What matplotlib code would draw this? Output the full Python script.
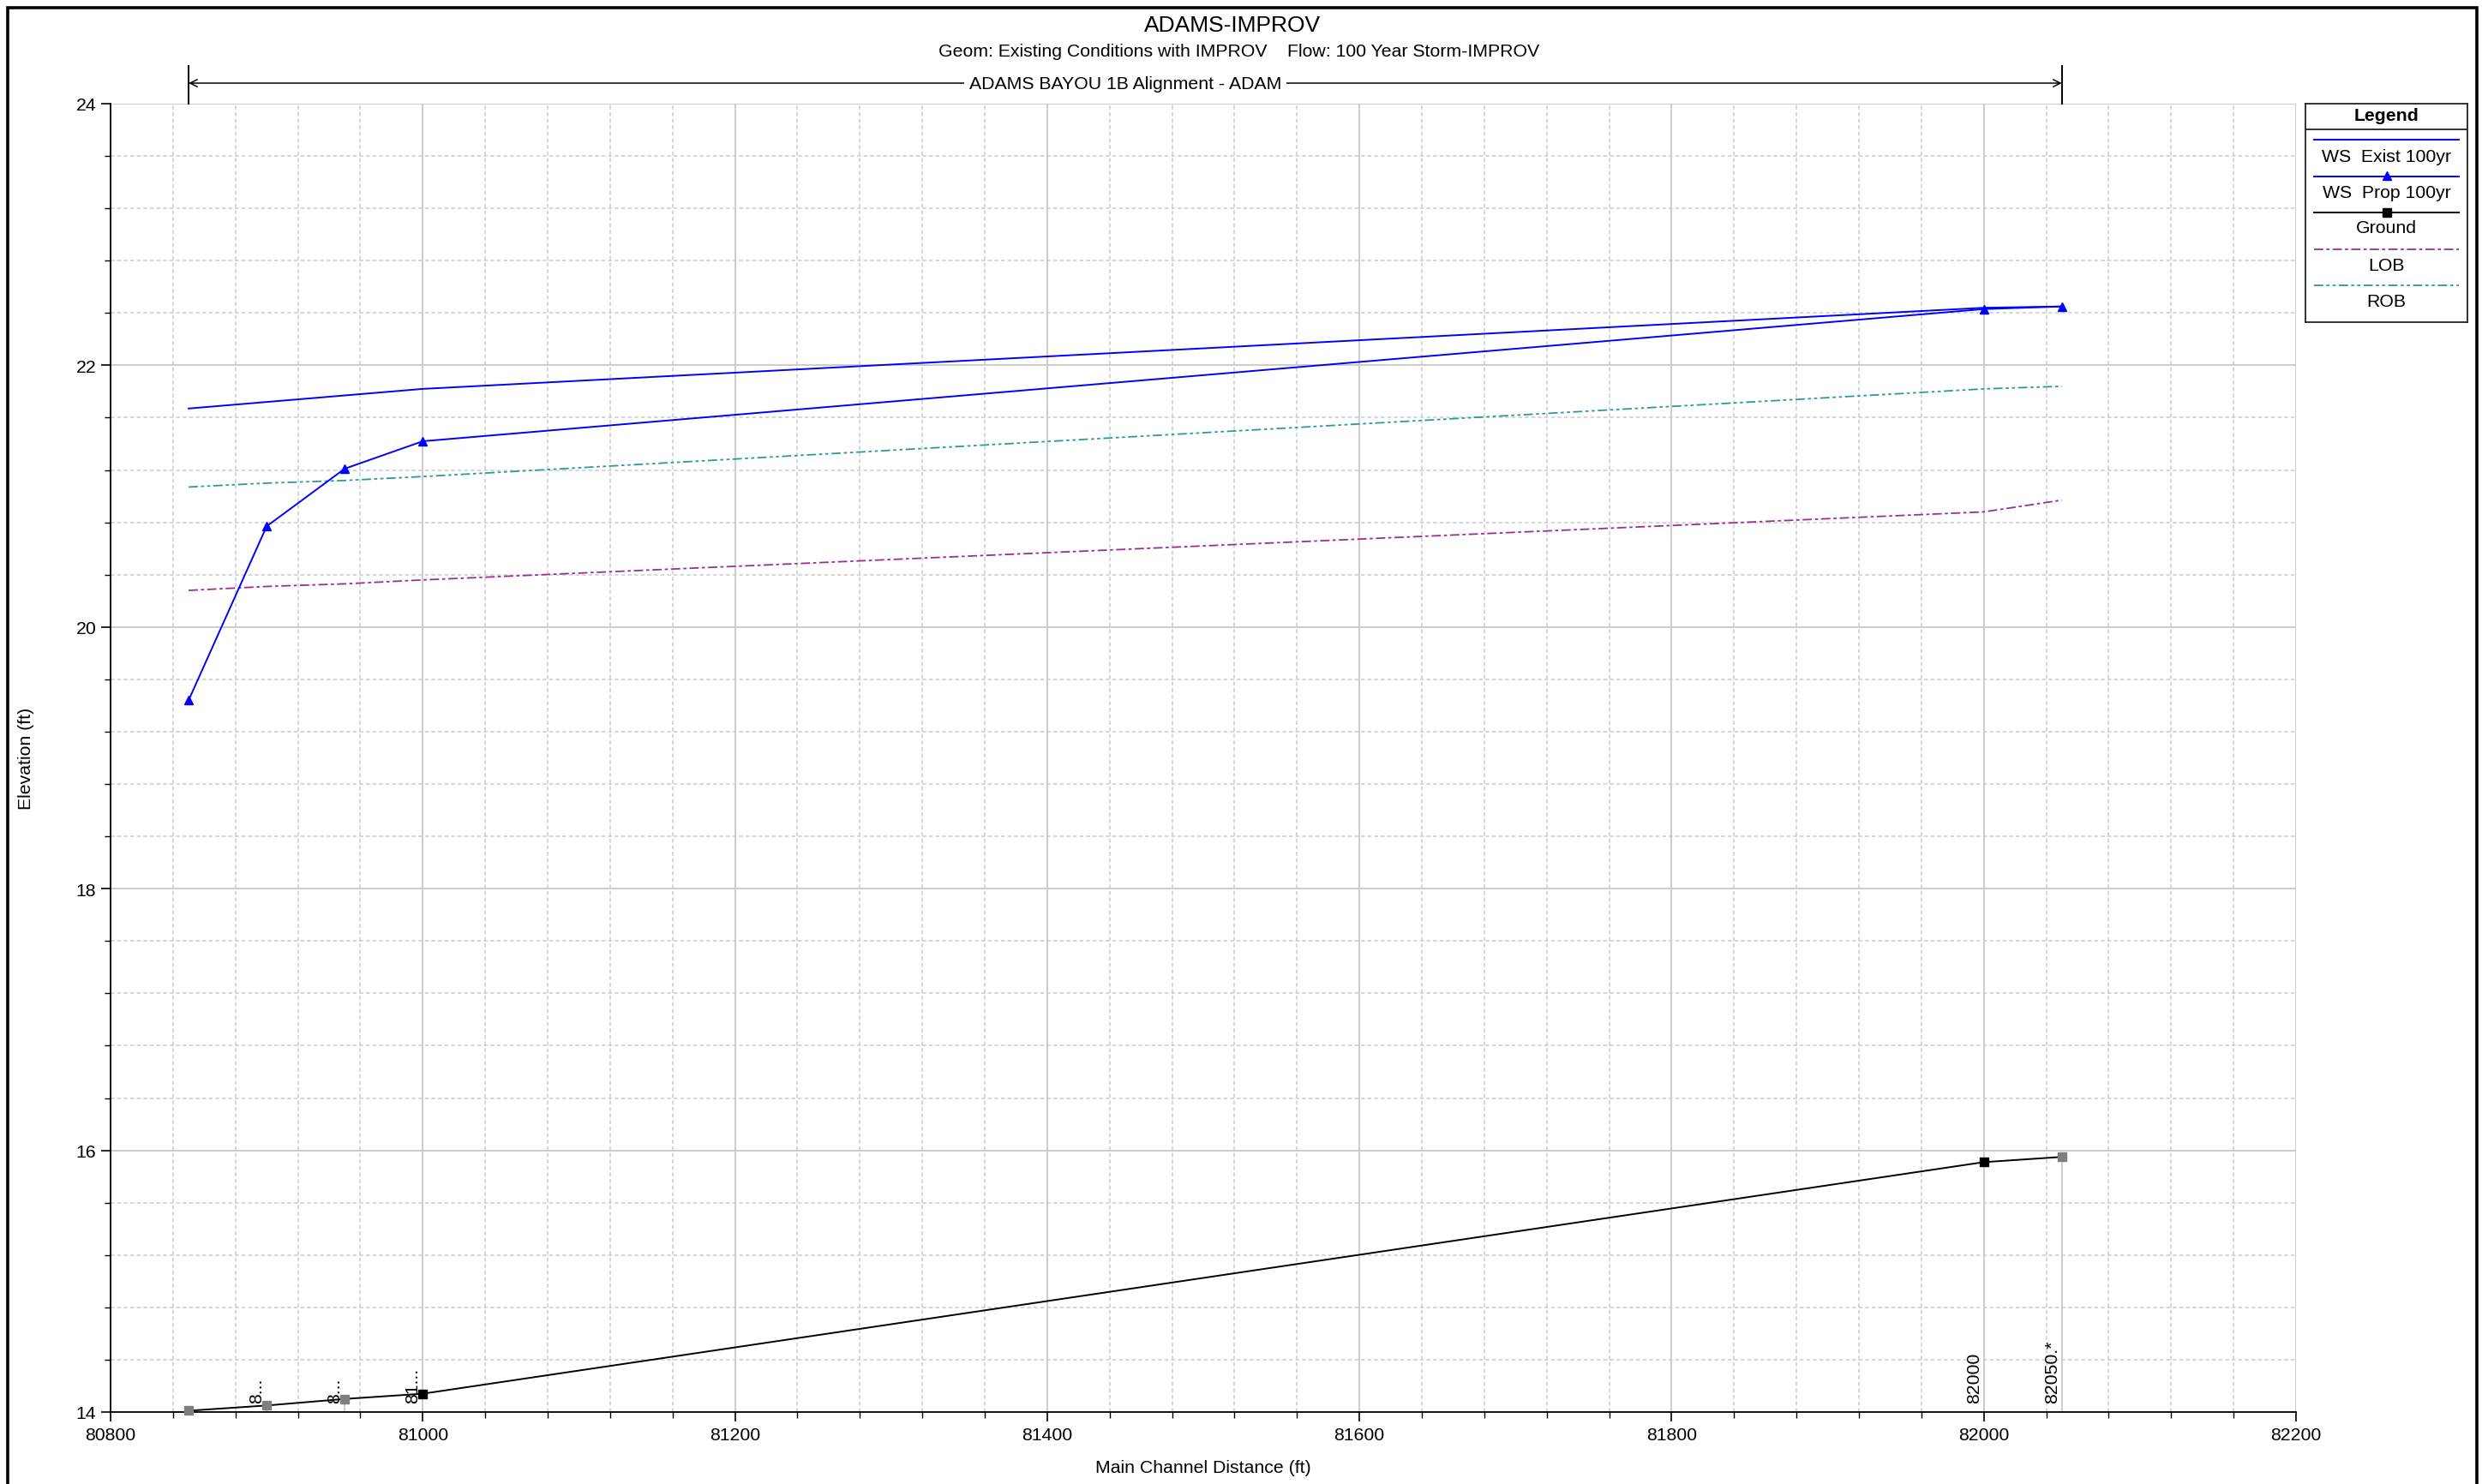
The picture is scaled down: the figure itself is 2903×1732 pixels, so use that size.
import matplotlib
matplotlib.use("Agg")
import matplotlib.pyplot as plt
import matplotlib.transforms as mtransforms
from matplotlib.patches import Rectangle
from matplotlib.ticker import MultipleLocator

plt.rcParams["font.family"] = ["Liberation Sans", "DejaVu Sans"]

# --- data ---
stations = [80850, 80900, 80950, 81000, 82000, 82050]
station_labels = ["", "8...", "8...", "81...", "82000", "82050.*"]
interpolated = [True, True, True, False, False, True]
ws_exist = [21.67, 21.72, 21.77, 21.82, 22.44, 22.45]
ws_prop = [19.44, 20.77, 21.21, 21.42, 22.43, 22.45]
ground = [14.01, 14.05, 14.10, 14.14, 15.91, 15.95]
lob = [20.28, 20.31, 20.33, 20.36, 20.88, 20.97]
rob = [21.07, 21.10, 21.12, 21.15, 21.82, 21.84]

legend_names = ["WS  Exist 100yr", "WS  Prop 100yr", "Ground", "LOB", "ROB"]

W, H = 2903, 1733
fig = plt.figure(figsize=(W / 100, H / 100), dpi=100, facecolor="white")

# axes placed in pixels
ax_l, ax_r, ax_t, ax_b = 129, 2679, 122, 1649
ax = fig.add_axes((ax_l / W, 1 - ax_b / H, (ax_r - ax_l) / W, (ax_b - ax_t) / H))

ax.set_xlim(80800, 82200)
ax.set_ylim(14, 24)
ax.xaxis.set_major_locator(MultipleLocator(200))
ax.xaxis.set_minor_locator(MultipleLocator(40))
ax.yaxis.set_major_locator(MultipleLocator(2))
ax.yaxis.set_minor_locator(MultipleLocator(0.4))
ax.grid(which="major", color="#cccccc", lw=1.4, ls="-", zorder=0)
ax.grid(which="minor", color="#cccccc", lw=1.1, ls=(0, (3, 2)), zorder=0)
ax.set_axisbelow(True)
for s in ("top", "right"):
    ax.spines[s].set_visible(False)
for s in ("left", "bottom"):
    ax.spines[s].set_linewidth(1.3)
ax.tick_params(which="major", direction="out", length=8, width=1.2, labelsize=15.3, pad=4)
ax.tick_params(which="minor", direction="out", length=5, width=1.0)

# vertical lines at each cross section, ground to axis
for st, g in zip(stations, ground):
    ax.plot([st, st], [14, g], color="#cccccc", lw=1.4, zorder=1)

ax.plot(stations, lob, color="#9b2d9b", lw=1.3, ls=(0, (6, 2, 2, 2)), zorder=3)
ax.plot(stations, rob, color="#2b9a9a", lw=1.3, ls=(0, (6, 2, 2, 2, 2, 2)), zorder=3)
ax.plot(stations, ws_exist, color="#0000ff", lw=1.4, zorder=4)
ax.plot(stations, ws_prop, color="#0000ff", lw=1.4, marker="^", ms=7,
        mec="#0000ff", mfc="#0000ff", zorder=5)
ax.plot(stations, ground, color="black", lw=1.4, zorder=4)
for st, g, interp in zip(stations, ground, interpolated):
    c = "#7f7f7f" if interp else "black"
    ax.plot(st, g, marker="s", ms=6.5, color=c, mec=c, ls="none", zorder=6, clip_on=False)

# station labels above the axis
for st, lab in zip(stations, station_labels):
    if lab:
        ax.annotate(lab, xy=(st, 14), xytext=(-1.5, 8), textcoords="offset points",
                    rotation=90, ha="right", va="bottom", fontsize=15.3, zorder=7)

# axis titles placed in pixels
fig.text(1404 / W, 1 - 1714 / H, "Main Channel Distance (ft)", ha="center", va="center",
         fontsize=15.3)
fig.text(31 / W, 1 - 885 / H, "Elevation (ft)", ha="center", va="center", rotation=90,
         fontsize=15.3)

# alignment bar above the plot
tr = mtransforms.blended_transform_factory(ax.transData, ax.transAxes)
y_bar = 1.0157
ax.annotate("", xy=(stations[0], y_bar), xytext=(stations[-1], y_bar), xycoords=tr,
            textcoords=tr, arrowprops=dict(arrowstyle="<->,head_length=0.6,head_width=0.3",
                                           color="black", lw=1.1, shrinkA=0, shrinkB=0))
for st in (stations[0], stations[-1]):
    ax.plot([st, st], [1.0, 1.029], color="black", lw=1.4, transform=tr, clip_on=False)
ax.text((stations[0] + stations[-1]) / 2, y_bar, "ADAMS BAYOU 1B Alignment - ADAM",
        transform=tr, ha="center", va="center", fontsize=15.3,
        bbox=dict(facecolor="white", edgecolor="none", pad=4))

# titles
fig.text(1438 / W, 1 - 30 / H, "ADAMS-IMPROV", ha="center", va="center", fontsize=19)
fig.text(1446 / W, 1 - 61 / H,
         "Geom: Existing Conditions with IMPROV    Flow: 100 Year Storm-IMPROV",
         ha="center", va="center", fontsize=15.3)

# legend box drawn in pixel coordinates
lg_l, lg_r, lg_t, lg_b = 2690, 2879, 122, 377
lax = fig.add_axes((lg_l / W, 1 - lg_b / H, (lg_r - lg_l) / W, (lg_b - lg_t) / H))
lax.set_xlim(0, lg_r - lg_l)
lax.set_ylim(lg_b - lg_t, 0)
lax.set_xticks([])
lax.set_yticks([])
for s in lax.spines.values():
    s.set_linewidth(1.3)
    s.set_color("#222222")
lw_ = lg_r - lg_l
lax.axhline(30, color="#222222", lw=1.3)
lax.text(lw_ / 2, 13, "Legend", ha="center", va="center", fontsize=15.3, fontweight="bold")
line_y = [42, 85, 127, 170, 212]
text_y = [61, 103, 145, 189, 231]
styles = [
    dict(color="#0000ff", lw=1.4),
    dict(color="#0000ff", lw=1.4),
    dict(color="black", lw=1.4),
    dict(color="#9b2d9b", lw=1.3, ls=(0, (6, 2, 2, 2))),
    dict(color="#2b9a9a", lw=1.3, ls=(0, (6, 2, 2, 2, 2, 2))),
]
for i, (ly, ty, name, st) in enumerate(zip(line_y, text_y, legend_names, styles)):
    lax.plot([10, lw_ - 10], [ly, ly], **st)
    if i == 1:
        lax.plot(lw_ / 2, ly - 1, marker="^", ms=7, color="#0000ff")
    if i == 2:
        lax.plot(lw_ / 2, ly, marker="s", ms=6.5, color="black")
    lax.text(lw_ / 2, ty, name, ha="center", va="center", fontsize=15.3)

# outer frame
fig.patches.append(Rectangle((9 / W, -0.05), (2890 - 9) / W, 1.05 - 10 / H,
                             transform=fig.transFigure, fill=False, edgecolor="black",
                             lw=2.6, zorder=10))

fig.savefig("out.png", dpi=100, facecolor="white")
